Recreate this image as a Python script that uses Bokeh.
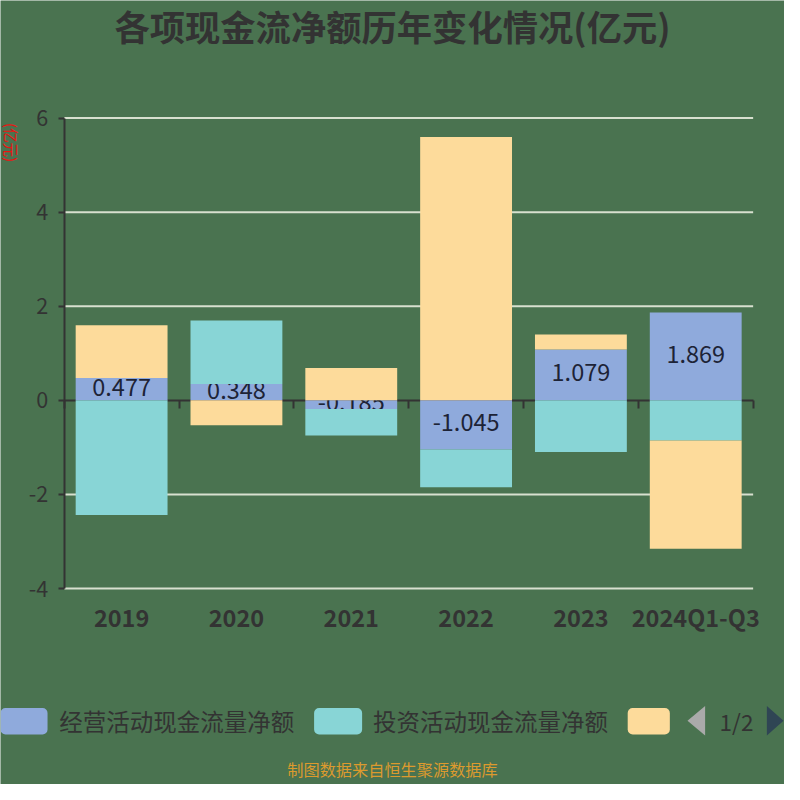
import numpy as np
from bokeh.plotting import figure
from bokeh.models import (Range1d, FixedTicker, LinearAxis, Label,
                          BoxAnnotation, PolyAnnotation, ColumnDataSource)
from bokeh.embed import file_html
from bokeh.resources import INLINE
from bokeh.core.properties import value

# ---------------- data ----------------
categories = ["2019", "2020", "2021", "2022", "2023", "2024Q1-Q3"]
operating = [0.477, 0.348, -0.185, -1.045, 1.079, 1.869]
investing = [-2.44, 1.35, -0.565, -0.80, -1.10, -0.855]
financing = [1.12, -0.53, 0.69, 5.60, 0.32, -2.30]
series_names = ["经营活动现金流量净额", "投资活动现金流量净额", "筹资活动现金流量净额"]
y_ticks = [-4, -2, 0, 2, 4, 6]

title_text = "各项现金流净额历年变化情况(亿元)"
unit_text = "(亿元)"
source_text = "制图数据来自恒生聚源数据库"
pager_text = "1/2"

# ---------------- style / layout ----------------
colors = ["#8faadc", "#88d5d6", "#fddb9b"]
BG = "#4a7350"
FONT = "Noto Sans CJK SC"
DARK = "#333333"
W = H = 784
S = W / 800.0                      # design drawn on an 800px canvas
PLOT_L, PLOT_R = 65 * S, 768 * S   # plot area (canvas pixels)
ZERO_Y, PX_PER_UNIT = 408 * S, 48 * S


def fs(px):
    return f"{px * S:.1f}px"


n = len(categories)
xc = [i + 0.5 for i in range(n)]
u = (PLOT_R - PLOT_L) / n

# stacking (positive and negative separately, like ECharts)
pos = np.zeros(n)
neg = np.zeros(n)
stacks = []
for vals in (operating, investing, financing):
    bots, tops = [], []
    for i, v in enumerate(vals):
        if v >= 0:
            b = pos[i]; t = b + v; pos[i] = t
        else:
            b = neg[i]; t = b + v; neg[i] = t
        bots.append(b); tops.append(t)
    stacks.append((bots, tops))

x_range = Range1d((0 - PLOT_L) / u, (W - PLOT_L) / u)
y_range = Range1d((ZERO_Y - H) / PX_PER_UNIT, ZERO_Y / PX_PER_UNIT)

p = figure(width=W, height=H, x_range=x_range, y_range=y_range,
           output_backend="svg", toolbar_location=None,
           x_axis_type=None, y_axis_type=None,
           min_border_left=0, min_border_right=0,
           min_border_top=0, min_border_bottom=0)
p.background_fill_color = BG
p.border_fill_color = BG
p.outline_line_color = None
p.xgrid.visible = False
p.ygrid.visible = False

# y axis
yax = LinearAxis(fixed_location=0, bounds=(y_ticks[0], y_ticks[-1]),
                 ticker=FixedTicker(ticks=y_ticks),
                 major_label_overrides={t: str(t) for t in y_ticks},
                 axis_line_color=DARK, axis_line_width=2,
                 major_tick_line_color=DARK, major_tick_line_width=2,
                 major_tick_out=6, major_tick_in=0, minor_tick_line_color=None,
                 major_label_text_font=FONT, major_label_text_font_size=fs(22),
                 major_label_text_color=DARK, major_label_standoff=10)
p.add_layout(yax, "left")

# zero axis line with boundary ticks (under the bars)
zax = LinearAxis(fixed_location=0, bounds=(0, n),
                 ticker=FixedTicker(ticks=list(range(n + 1))),
                 major_label_overrides={i: "" for i in range(n + 1)},
                 axis_line_color=DARK, axis_line_width=2,
                 major_tick_line_color=DARK, major_tick_line_width=2,
                 major_tick_out=8, major_tick_in=0, minor_tick_line_color=None,
                 major_label_text_font_size="1px", level="underlay")
p.add_layout(zax, "below")

# category labels
xax = LinearAxis(fixed_location=y_ticks[0], bounds=(0, n),
                 ticker=FixedTicker(ticks=xc),
                 major_label_overrides={x: c for x, c in zip(xc, categories)},
                 axis_line_color=None, major_tick_line_color=None,
                 minor_tick_line_color=None, major_tick_out=0, major_tick_in=0,
                 major_label_text_font=FONT, major_label_text_font_size=fs(24),
                 major_label_text_font_style="bold",
                 major_label_text_color=DARK, major_label_standoff=11)
p.add_layout(xax, "below")

# horizontal grid lines
gy = [t for t in y_ticks if t != 0]
p.segment(x0=[0] * len(gy), x1=[n] * len(gy), y0=gy, y1=gy,
          line_color="#d8e0cf", line_width=2)

# bars
b0, t0 = stacks[0]
p.vbar(x=xc, bottom=b0, top=t0, width=0.8, color=colors[0], line_color=None)
lab_src = ColumnDataSource(dict(x=xc, y=[v / 2 for v in operating],
                                t=[f"{v:.3f}" for v in operating]))
p.text(x="x", y="y", text="t", source=lab_src, text_align="center",
       text_baseline="middle", text_font=value(FONT), text_font_size=fs(24),
       text_color="#1d2336", y_offset=-2)
for k in (1, 2):
    b, t = stacks[k]
    p.vbar(x=xc, bottom=b, top=t, width=0.8, color=colors[k], line_color=None)


# ---------------- annotations (screen units) ----------------
def sx(X):
    return X * S


def sy(Y):
    return H - Y * S


p.add_layout(Label(x=sx(400), y=sy(26), x_units="screen", y_units="screen",
                   text=title_text, text_align="center", text_baseline="middle",
                   text_font=FONT, text_font_size=fs(36), text_font_style="bold",
                   text_color=DARK))
p.add_layout(Label(x=sx(11), y=sy(145), x_units="screen", y_units="screen",
                   text=unit_text, text_align="center", text_baseline="middle",
                   angle=-np.pi / 2, text_font=FONT, text_font_size=fs(15),
                   text_color="#ee1111"))
p.add_layout(Label(x=sx(400), y=sy(784), x_units="screen", y_units="screen",
                   text=source_text, text_align="center", text_baseline="middle",
                   text_font=FONT, text_font_size=fs(16.5), text_color="#dc9a2e"))

# legend
leg_y = 735
rects = [(0, 48), (320, 369), (640, 683)]
text_x = [60, 380]
for k, (l, r) in enumerate(rects):
    p.add_layout(BoxAnnotation(left=sx(l), right=sx(r), top=sy(722), bottom=sy(749),
                               left_units="screen", right_units="screen",
                               top_units="screen", bottom_units="screen",
                               fill_color=colors[k], fill_alpha=1.0, line_color=None,
                               border_radius=5))
for k, X in enumerate(text_x):
    p.add_layout(Label(x=sx(X), y=sy(leg_y), x_units="screen", y_units="screen",
                       text=series_names[k], text_align="left", text_baseline="middle",
                       text_font=FONT, text_font_size=fs(24), text_color=DARK))
p.add_layout(PolyAnnotation(xs=[sx(719), sx(719), sx(701)], ys=[sy(720), sy(750), sy(735)],
                            xs_units="screen", ys_units="screen",
                            fill_color="#aaaaaa", fill_alpha=1.0, line_color=None))
p.add_layout(Label(x=sx(751), y=sy(leg_y), x_units="screen", y_units="screen",
                   text=pager_text, text_align="center", text_baseline="middle",
                   text_font=FONT, text_font_size=fs(23), text_color=DARK))
p.add_layout(PolyAnnotation(xs=[sx(782), sx(782), sx(799)], ys=[sy(720), sy(750), sy(735)],
                            xs_units="screen", ys_units="screen",
                            fill_color="#2f4554", fill_alpha=1.0, line_color=None))

open("out.html", "w").write(file_html(p, INLINE))
